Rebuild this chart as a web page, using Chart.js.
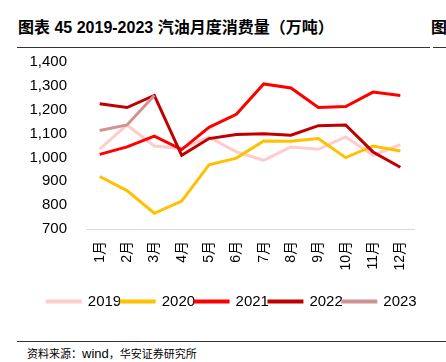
<!DOCTYPE html>
<html>
<head>
<meta charset="utf-8">
<script src="https://cdn.jsdelivr.net/npm/chart.js@4"></script>
<style>
  body { margin: 0; width: 446px; height: 362px; overflow: hidden; background: #fff; position: relative;
         font-family: "Liberation Sans", "Noto Sans CJK SC", sans-serif; }
  .titulo { position: absolute; left: 18px; top: 14px; font-size: 16px; font-weight: bold; color: #000; white-space: nowrap; }
  .vecino { position: absolute; left: 431px; top: 14px; font-size: 16px; font-weight: bold; white-space: nowrap; }
  .linea { position: absolute; height: 1px; background: #333; }
  .fuente { position: absolute; left: 27px; top: 345px; font-size: 11px; color: #000; white-space: nowrap; }
  .fuente b { font-weight: normal; font-size: 13px; }
  #grafica { position: absolute; left: 0; top: 0; }
</style>
</head>
<body>
<div class="titulo">图表 45 2019-2023 汽油月度消费量（万吨）</div>
<div class="vecino">图</div>
<div class="linea" style="left:17px; top:47px; width:413px;"></div>
<div class="linea" style="left:433px; top:47px; width:13px;"></div>
<canvas id="grafica" width="446" height="325"></canvas>
<div class="linea" style="left:17px; top:341px; width:429px;"></div>
<div class="fuente">资料来源：<b>wind</b>，华安证券研究所</div>
<script>
//meses del eje x
const meses = ["1月", "2月", "3月", "4月", "5月", "6月", "7月", "8月", "9月", "10月", "11月", "12月"];
//consumo mensual por año (万吨)
const datos2019 = [1035, 1136, 1048, 1038, 1085, 1023, 988, 1044, 1034, 1086, 1009, 1054];
const datos2020 = [920, 861, 766, 817, 969, 997, 1069, 1068, 1079, 999, 1048, 1027];
const datos2021 = [1013, 1044, 1089, 1033, 1126, 1181, 1308, 1291, 1209, 1213, 1274, 1260];
const datos2022 = [1225, 1209, 1260, 1009, 1079, 1096, 1099, 1093, 1133, 1136, 1023, 959];
const datos2023 = [1113, 1136, 1260];
const anios = ["2019", "2020", "2021", "2022", "2023"];
const colores = ["#ffcccc", "#ffc000", "#ff0000", "#c00000", "#d09292"];

const series = [datos2019, datos2020, datos2021, datos2022, datos2023];
const fuente = '"Liberation Sans", "Noto Sans CJK SC", sans-serif';

const conjuntos = series.map((d, i) => ({
    label: anios[i],
    data: d,
    borderColor: colores[i],
    backgroundColor: colores[i],
    borderWidth: 3,
    pointRadius: 0,
    tension: 0,
    order: 5 - i, //los años mas nuevos van arriba
}));

const $grafica = document.querySelector("#grafica");
new Chart($grafica, {
    type: 'line',
    data: { labels: meses, datasets: conjuntos },
    options: {
        responsive: false,
        animation: false,
        devicePixelRatio: 1,
        layout: { padding: { left: 18, right: 0, top: 62, bottom: 6 } },
        plugins: {
            tooltip: { enabled: false },
            legend: {
                position: 'bottom',
                labels: {
                    boxWidth: 33,
                    boxHeight: 1,
                    padding: 0,
                    color: '#000',
                    font: { family: fuente, size: 15 },
                    sort: (a, b) => a.datasetIndex - b.datasetIndex,
                },
            },
        },
        scales: {
            x: {
                offset: true,
                grid: { display: false, drawTicks: false },
                border: { display: true, color: '#d9d9d9', width: 1 },
                ticks: {
                    minRotation: 90, maxRotation: 90, padding: 12,
                    color: '#000', font: { family: fuente, size: 14 },
                },
                afterFit: (eje) => { eje.height = 65; },
            },
            y: {
                min: 700, max: 1400,
                grid: { display: false, drawTicks: false },
                border: { display: false },
                ticks: {
                    stepSize: 100, padding: 19,
                    color: '#000', font: { family: fuente, size: 15 },
                },
                afterFit: (eje) => { eje.width = 68; },
            },
            //eje vacio a la derecha, solo para dejar margen
            margenDer: {
                position: 'right',
                grid: { display: false, drawTicks: false },
                border: { display: false },
                ticks: { display: false },
                afterFit: (eje) => { eje.width = 32; },
            },
        },
    },
});
</script>
</body>
</html>
